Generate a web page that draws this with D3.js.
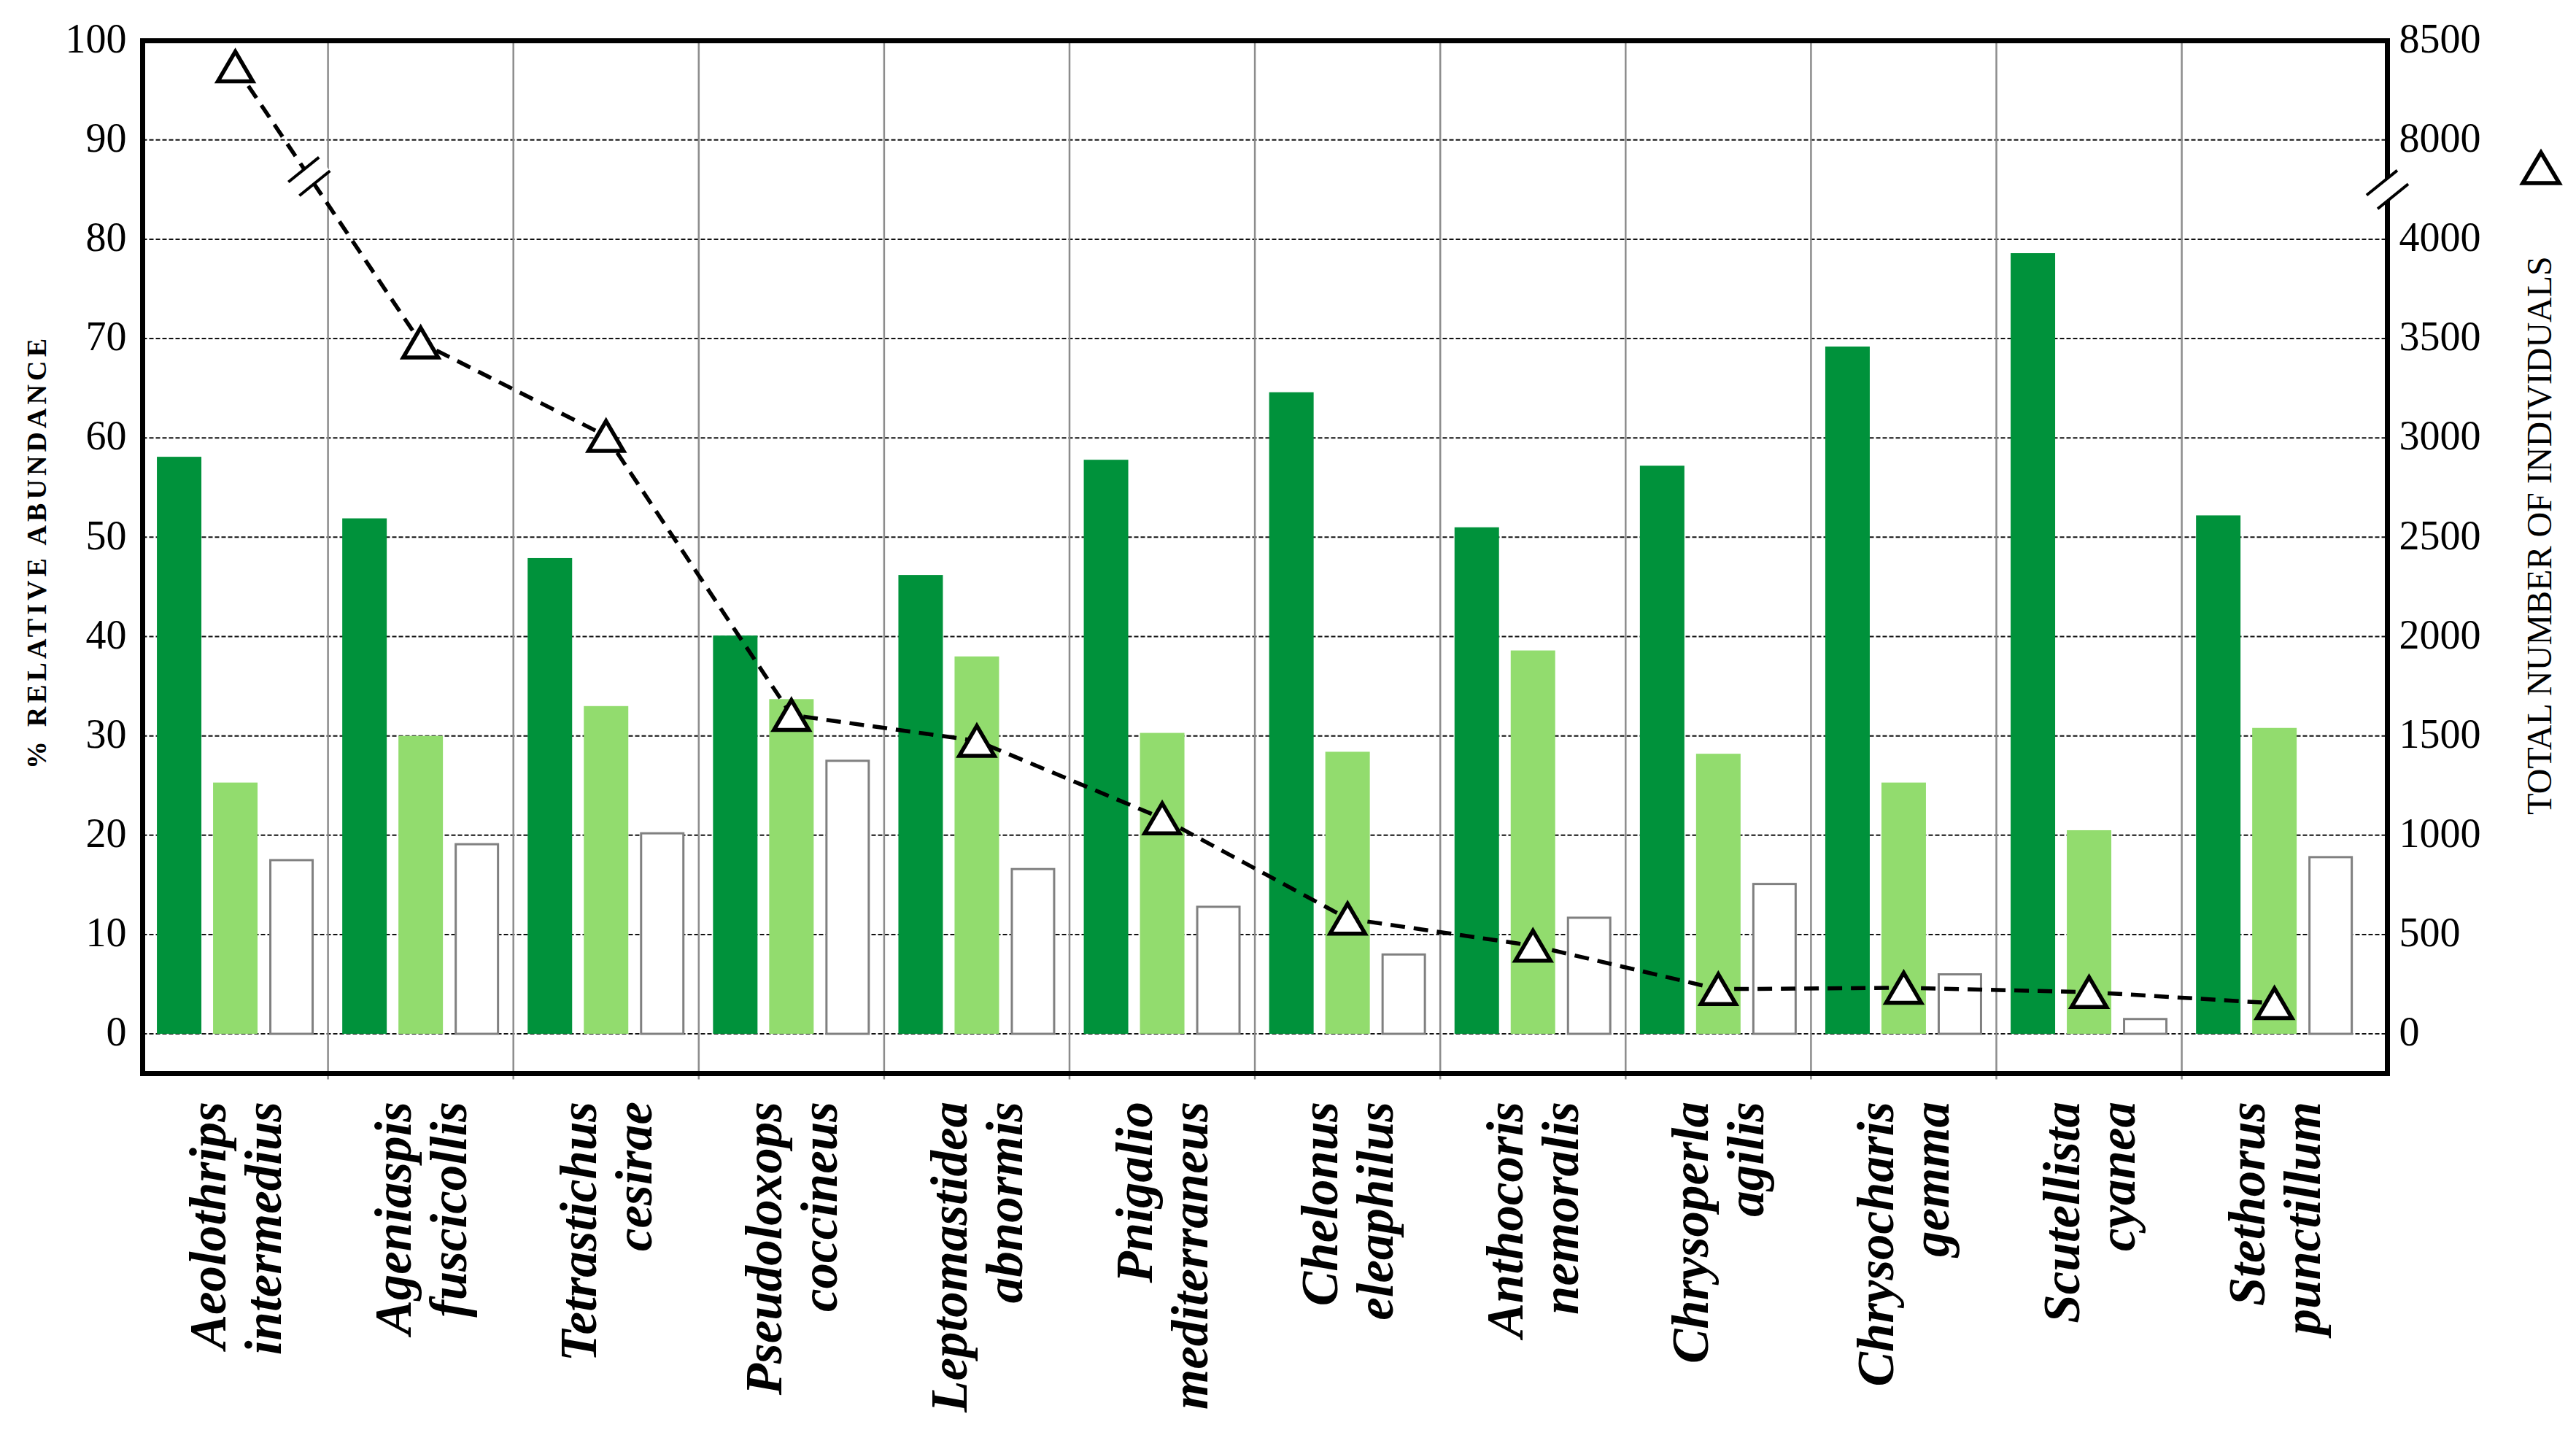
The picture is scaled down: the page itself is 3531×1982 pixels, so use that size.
<!DOCTYPE html>
<meta charset='utf-8'>
<title>Relative abundance and total number of individuals</title>
<style>
html, body {
  margin: 0;
  padding: 0;
  background: #fff;
}
</style>
<script src='https://d3js.org/d3.v7.min.js'></script>
<body>
<div id='chart'></div>
<script>
// Species on the category axis (split on the space into two label lines)
var species = [
  'Aeolothrips intermedius', 'Ageniaspis fuscicollis', 'Tetrastichus cesirae',
  'Pseudoloxops coccineus', 'Leptomastidea abnormis', 'Pnigalio mediterraneus',
  'Chelonus eleaphilus', 'Anthocoris nemoralis', 'Chrysoperla agilis',
  'Chrysocharis gemma', 'Scutellista cyanea', 'Stethorus punctillum'
];

// The source has no legend, so the three bar series are named by their look
var seriesNames = ['darkGreen', 'lightGreen', 'open'];

// % relative abundance
var darkGreenValues  = [58.1, 51.9, 47.9, 40.1, 46.2, 57.8, 64.6, 51.0, 57.2, 69.2, 78.6, 52.2];
var lightGreenValues = [25.3, 30.0, 33.0, 33.7, 38.0, 30.3, 28.4, 38.6, 28.2, 25.3, 20.5, 30.8];
var openValues       = [17.6, 19.2, 20.3, 27.6, 16.7, 12.9,  8.1, 11.8, 15.2,  6.1,  1.6, 17.9];

var totalIndividuals = [8370, 3480, 3010, 1605, 1475, 1085, 580, 444, 225, 232, 210, 154];

// Tick labels
var leftTicks = [0, 10, 20, 30, 40, 50, 60, 70, 80, 90, 100];
var rightTicks = [0, 500, 1000, 1500, 2000, 2500, 3000, 3500, 4000, 8000, 8500];

// Design values
var width = 3531, height = 1982;
var frame = {left: 195.5, top: 55.7, right: 3272.5, bottom: 1471.5};
var categoryStep = 254.1;
var serif = "'Liberation Serif', 'Times New Roman', serif";
var darkGreen = '#00923b';
var lightGreen = '#92dc6e';
var openStroke = '#808080';
var gridGray = '#8c8c8c';

var svg = d3.select('#chart').append('svg')
  .attr('width', width)
  .attr('height', height)
  .style('display', 'block');

svg.append('rect').attr('width', width).attr('height', height).attr('fill', '#fff');

// Scales
var y = d3.scaleLinear().domain([-4, 100]).range([frame.bottom, frame.top]);
// Right axis is broken between 4000 and 8000; a polylinear scale squeezes that span
var yRight = d3.scaleLinear()
  .domain([0, 4000, 8000, 8500])
  .range([y(0), y(80), y(90), y(100)]);

var x = d3.scaleBand()
  .domain(species)
  .range([frame.left, frame.left + categoryStep * species.length]);

var xInner = d3.scaleBand()
  .domain(seriesNames)
  .range([0, x.bandwidth()])
  .paddingInner(0.208)
  .paddingOuter(0.254);

var seriesStyle = {
  darkGreen:  {fill: darkGreen, stroke: 'none', sw: 0},
  lightGreen: {fill: lightGreen, stroke: 'none', sw: 0},
  open:       {fill: '#fff', stroke: openStroke, sw: 3}
};

// Horizontal dotted grid
svg.append('g')
  .selectAll('line')
  .data(leftTicks.filter(function (v) { return v < 100; }))
  .enter().append('line')
    .attr('x1', frame.left)
    .attr('x2', frame.right)
    .attr('y1', function (d) { return y(d); })
    .attr('y2', function (d) { return y(d); })
    .attr('stroke', '#111')
    .attr('stroke-width', 2)
    .attr('stroke-dasharray', '6,3');

// Gray lines between categories
svg.append('g')
  .selectAll('line')
  .data(species.slice(1))
  .enter().append('line')
    .attr('x1', function (d) { return x(d); })
    .attr('x2', function (d) { return x(d); })
    .attr('y1', frame.top)
    .attr('y2', frame.bottom + 8)
    .attr('stroke', gridGray)
    .attr('stroke-width', 2.5);

// Bars
var rows = species.map(function (s, i) {
  return {name: s, values: [
    {key: 'darkGreen', value: darkGreenValues[i]},
    {key: 'lightGreen', value: lightGreenValues[i]},
    {key: 'open', value: openValues[i]}
  ]};
});

svg.append('g')
  .selectAll('g')
  .data(rows)
  .enter().append('g')
    .attr('transform', function (d) { return 'translate(' + x(d.name) + ',0)'; })
  .selectAll('rect')
  .data(function (d) { return d.values; })
  .enter().append('rect')
    .attr('x', function (d) { return xInner(d.key) + seriesStyle[d.key].sw / 2; })
    .attr('width', function (d) { return xInner.bandwidth() - seriesStyle[d.key].sw; })
    .attr('y', function (d) { return y(d.value) + seriesStyle[d.key].sw / 2; })
    .attr('height', function (d) { return y(0) - y(d.value) - seriesStyle[d.key].sw / 2; })
    .attr('fill', function (d) { return seriesStyle[d.key].fill; })
    .attr('stroke', function (d) { return seriesStyle[d.key].stroke; })
    .attr('stroke-width', function (d) { return seriesStyle[d.key].sw; });

// Plot frame
svg.append('rect')
  .attr('x', frame.left)
  .attr('y', frame.top)
  .attr('width', frame.right - frame.left)
  .attr('height', frame.bottom - frame.top)
  .attr('fill', 'none')
  .attr('stroke', '#000')
  .attr('stroke-width', 7);

// Axes (text only, the frame is the axis line)
var leftAxis = svg.append('g')
  .attr('transform', 'translate(' + frame.left + ',0)')
  .call(d3.axisLeft(y).tickValues(leftTicks).tickSize(0).tickPadding(22).tickFormat(d3.format('d')));
var rightAxis = svg.append('g')
  .attr('transform', 'translate(' + frame.right + ',0)')
  .call(d3.axisRight(yRight).tickValues(rightTicks).tickSize(0).tickPadding(16).tickFormat(d3.format('d')));
[leftAxis, rightAxis].forEach(function (a) {
  a.select('.domain').remove();
  a.attr('font-family', serif).attr('font-size', 56);
  a.selectAll('text')
    .attr('dy', '0.28em')
    .attr('fill', '#000')
    .style('font-family', serif)
    .style('font-size', '56px');
});

// Dashed line of the totals
var pointX = function (i) { return x(species[i]) + x.bandwidth() / 2; };
var line = d3.line()
  .x(function (d, i) { return pointX(i); })
  .y(function (d) { return yRight(d); });

svg.append('path')
  .datum(totalIndividuals)
  .attr('d', line)
  .attr('fill', 'none')
  .attr('stroke', '#000')
  .attr('stroke-width', 5.5)
  .attr('stroke-dasharray', '20,12');

// Break marks: two parallel slashes with white between them
function breakMark(cx, cy) {
  var ux = 0.777, uy = -0.629;   // slash direction
  var px = 0.629, py = 0.777;    // across the slashes
  var half = 27, off = 12;
  var g = svg.append('g');
  var p = d3.path();
  p.moveTo(cx - off * px - half * ux, cy - off * py - half * uy);
  p.lineTo(cx - off * px + half * ux, cy - off * py + half * uy);
  p.lineTo(cx + off * px + half * ux, cy + off * py + half * uy);
  p.lineTo(cx + off * px - half * ux, cy + off * py - half * uy);
  p.closePath();
  g.append('path').attr('d', p.toString()).attr('fill', '#fff');
  [-off, off].forEach(function (o) {
    g.append('line')
      .attr('x1', cx + o * px - half * ux).attr('y1', cy + o * py - half * uy)
      .attr('x2', cx + o * px + half * ux).attr('y2', cy + o * py + half * uy)
      .attr('stroke', '#000')
      .attr('stroke-width', 4);
  });
}

var breakY = (yRight(4000) + yRight(8000)) / 2;
breakMark(frame.right, breakY);
// same break on the first segment of the line
var x0 = pointX(0), y0 = yRight(totalIndividuals[0]);
var x1 = pointX(1), y1 = yRight(totalIndividuals[1]);
var t = (breakY - 18 - y0) / (y1 - y0);
breakMark(x0 + t * (x1 - x0), y0 + t * (y1 - y0));

// Triangle markers
function triangle(w, h) {
  var p = d3.path();
  p.moveTo(0, -h / 2);
  p.lineTo(w / 2, h / 2);
  p.lineTo(-w / 2, h / 2);
  p.closePath();
  return p.toString();
}

svg.append('g')
  .selectAll('path')
  .data(totalIndividuals)
  .enter().append('path')
    .attr('d', triangle(48, 41))
    .attr('transform', function (d, i) { return 'translate(' + pointX(i) + ',' + yRight(d) + ')'; })
    .attr('fill', '#fff')
    .attr('stroke', '#000')
    .attr('stroke-width', 5.5)
    .attr('stroke-linejoin', 'miter');

// Category labels, rotated, two lines
var labels = svg.append('g')
  .selectAll('g')
  .data(species)
  .enter().append('g')
    .attr('transform', function (d) { return 'translate(' + (x(d) + x.bandwidth() / 2) + ',1510)rotate(-90)'; });

labels.selectAll('text')
  .data(function (d) { return d.split(' '); })
  .enter().append('text')
    .text(function (d) { return d; })
    .attr('x', 0)
    .attr('y', function (d, i) { return i === 0 ? -38 : 38; })
    .attr('text-anchor', 'end')
    .attr('dominant-baseline', 'central')
    .style('font-family', serif)
    .style('font-size', '71px')
    .style('font-weight', 'bold')
    .style('font-style', 'italic');

// Axis titles
svg.append('text')
  .text('% RELATIVE ABUNDANCE')
  .attr('transform', 'translate(50,759)rotate(-90)')
  .attr('text-anchor', 'middle')
  .attr('dominant-baseline', 'central')
  .attr('textLength', 590)
  .attr('lengthAdjust', 'spacing')
  .style('font-family', serif)
  .style('font-weight', 'bold')
  .style('font-size', '38px');

svg.append('text')
  .text('TOTAL NUMBER OF INDIVIDUALS')
  .attr('transform', 'translate(3480,734)rotate(-90)')
  .attr('text-anchor', 'middle')
  .attr('dominant-baseline', 'central')
  .style('font-family', serif)
  .style('font-size', '48px');

svg.append('path')
  .attr('d', triangle(50, 42))
  .attr('transform', 'translate(3483,230)')
  .attr('fill', '#fff')
  .attr('stroke', '#000')
  .attr('stroke-width', 5.5);
</script>
</body>
